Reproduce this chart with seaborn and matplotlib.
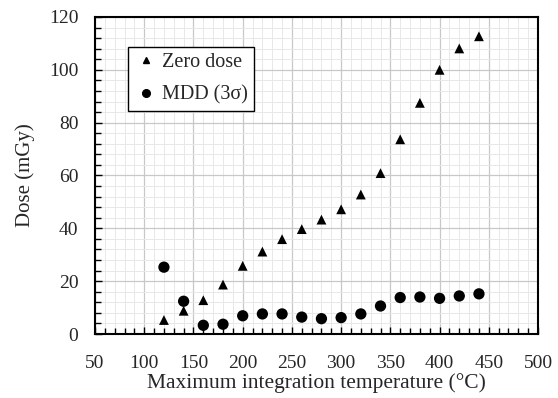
import numpy as np
import pandas as pd
import seaborn as sns
import matplotlib.pyplot as plt
from matplotlib.ticker import MultipleLocator
from matplotlib.lines import Line2D

temps = [120, 140, 160, 180, 200, 220, 240, 260, 280, 300, 320, 340, 360, 380, 400, 420, 440]
zero_dose = [5.3, 8.8, 12.8, 18.7, 25.8, 31.2, 35.9, 39.7, 43.3, 47.2, 52.8, 60.9, 73.7, 87.5, 100.0, 108.1, 112.7]
mdd = [25.3, 12.4, 3.3, 3.7, 6.9, 7.6, 7.6, 6.4, 5.8, 6.2, 7.6, 10.6, 13.8, 14.0, 13.5, 14.4, 15.2]
series_names = ["Zero dose", "MDD (3σ)"]

df = pd.DataFrame({
    "temp": temps * 2,
    "dose": zero_dose + mdd,
    "series": [series_names[0]] * len(temps) + [series_names[1]] * len(temps),
})

sns.set_style("white")
plt.rcParams["font.family"] = ["Liberation Serif", "DejaVu Serif"]

fig = plt.figure(figsize=(5.58, 3.98), dpi=100)
ax = fig.add_axes([0.1703, 0.1608, 0.7939, 0.7965])

sns.scatterplot(data=df, x="temp", y="dose", style="series", hue="series",
                markers={series_names[0]: "^", series_names[1]: "o"},
                palette={series_names[0]: "black", series_names[1]: "black"},
                size="series", sizes={series_names[0]: 50, series_names[1]: 66},
                edgecolor="black", linewidth=0, ax=ax, zorder=3, legend=False)

ax.set_xlim(50, 500)
ax.set_ylim(0, 120)
ax.xaxis.set_major_locator(MultipleLocator(50))
ax.xaxis.set_minor_locator(MultipleLocator(10))
ax.yaxis.set_major_locator(MultipleLocator(20))
ax.yaxis.set_minor_locator(MultipleLocator(4))
ax.grid(which="major", color="#c8c8c8", linewidth=0.9, zorder=0)
ax.grid(which="minor", color="#e8e8e8", linewidth=0.7, zorder=0)
ax.set_axisbelow(True)
ax.tick_params(axis="both", which="major", direction="in", length=5, width=1, color="black",
               labelsize=14, bottom=True, left=True)
ax.tick_params(axis="x", which="major", pad=15)
ax.tick_params(axis="y", which="major", pad=12)
ax.tick_params(axis="both", which="minor", direction="in", length=4, width=1, color="black",
               bottom=True, left=True)
for sp in ax.spines.values():
    sp.set_color("black")
    sp.set_linewidth(1.5)

ax.set_xlabel("Maximum integration temperature (°C)", fontsize=15.5, labelpad=1)
ax.set_ylabel("Dose (mGy)", fontsize=15, labelpad=10)

handles = [Line2D([], [], marker="^", color="black", linestyle="none", markersize=4.5),
           Line2D([], [], marker="o", color="black", linestyle="none", markersize=5.5)]
leg = ax.legend(handles, series_names, loc="upper left", bbox_to_anchor=(0.0745, 0.905),
                fontsize=14.5, frameon=True, fancybox=False, edgecolor="black",
                handletextpad=0.2, handlelength=1.2, borderpad=0.3, labelspacing=0.65,
                borderaxespad=0)
leg.get_frame().set_linewidth(1.0)
leg.get_frame().set_alpha(1)

fig.savefig("out.png", dpi=100)
